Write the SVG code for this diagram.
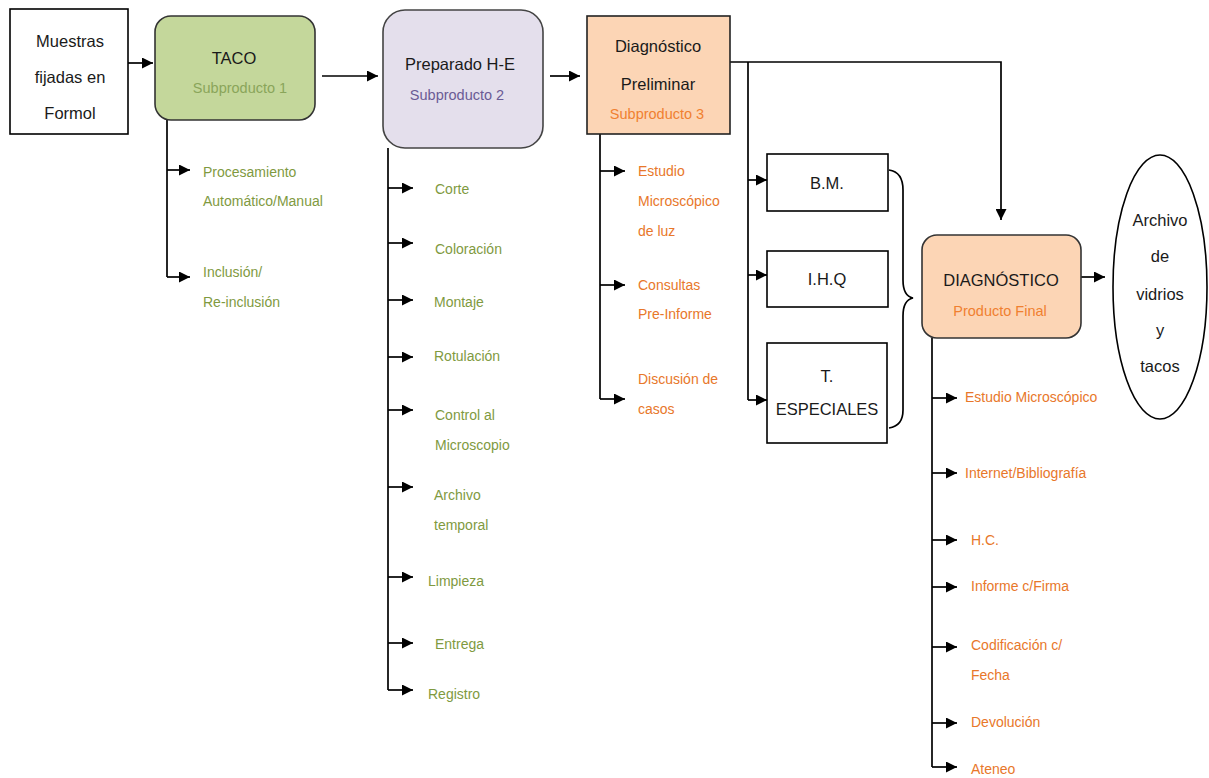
<svg xmlns="http://www.w3.org/2000/svg" width="1209" height="778" viewBox="0 0 1209 778">
<defs>
<marker id="ah" viewBox="0 0 10 10" refX="10" refY="5" markerWidth="11" markerHeight="11" markerUnits="userSpaceOnUse" orient="auto">
<path d="M0,0 L10,5 L0,10 z" fill="#000"/>
</marker>
</defs>
<style>
text{font-family:"Liberation Sans",Arial,sans-serif}
.t{font-size:16.5px;fill:#1a1a1a;text-anchor:middle}
.s{font-size:14.5px;text-anchor:middle}
.g{font-size:14px;fill:#7f9a3f}
.o{font-size:14px;fill:#e8772a}
.c line,.c path,.c polyline{stroke:#000;stroke-width:1.7;fill:none}
.a{marker-end:url(#ah)}
</style>
<rect width="1209" height="778" fill="#fff"/>
<g class="c" id="connectors">
<line class="a" x1="128" y1="63" x2="153" y2="63"/>
<line class="a" x1="322" y1="76" x2="378" y2="76"/>
<line class="a" x1="550" y1="76" x2="580" y2="76"/>
<polyline class="a" points="730,62 1001,62 1001,220"/>
<line x1="748" y1="62" x2="748" y2="400"/>
<line class="a" x1="748" y1="180" x2="767" y2="180"/>
<line class="a" x1="748" y1="275" x2="767" y2="275"/>
<line class="a" x1="748" y1="400" x2="767" y2="400"/>
<path d="M889,170 Q903,172 903,190 L903,280 Q903,296 913,298 Q903,300 903,316 L903,410 Q903,426 889,428"/>
<line class="a" x1="1081" y1="277" x2="1105" y2="277"/>
<polyline points="167,120 167,277"/>
<line class="a" x1="167" y1="170" x2="190" y2="170"/>
<line class="a" x1="167" y1="277" x2="190" y2="277"/>
<polyline points="388,148 388,690"/>
<line class="a" x1="388" y1="188" x2="413" y2="188"/>
<line class="a" x1="388" y1="243" x2="413" y2="243"/>
<line class="a" x1="388" y1="300" x2="413" y2="300"/>
<line class="a" x1="388" y1="357" x2="413" y2="357"/>
<line class="a" x1="388" y1="410" x2="413" y2="410"/>
<line class="a" x1="388" y1="487" x2="413" y2="487"/>
<line class="a" x1="388" y1="577" x2="413" y2="577"/>
<line class="a" x1="388" y1="643" x2="413" y2="643"/>
<line class="a" x1="388" y1="690" x2="413" y2="690"/>
<polyline points="600,134 600,399"/>
<line class="a" x1="600" y1="171" x2="625" y2="171"/>
<line class="a" x1="600" y1="285" x2="625" y2="285"/>
<line class="a" x1="600" y1="399" x2="625" y2="399"/>
<polyline points="932,338 932,767"/>
<line class="a" x1="932" y1="398" x2="957" y2="398"/>
<line class="a" x1="932" y1="473" x2="957" y2="473"/>
<line class="a" x1="932" y1="540" x2="957" y2="540"/>
<line class="a" x1="932" y1="587" x2="957" y2="587"/>
<line class="a" x1="932" y1="647" x2="957" y2="647"/>
<line class="a" x1="932" y1="723" x2="957" y2="723"/>
<line class="a" x1="932" y1="767" x2="957" y2="767"/>
</g>
<g id="muestras">
<rect x="10" y="9" width="118" height="125" fill="#fff" stroke="#000" stroke-width="1.6"/>
<text class="t" x="70" y="47">Muestras</text>
<text class="t" x="70" y="83">fijadas en</text>
<text class="t" x="70" y="119">Formol</text>
</g>
<g id="taco">
<rect x="155" y="16" width="160" height="104" rx="16" fill="#c4d79b" stroke="#333" stroke-width="1.6"/>
<text class="t" x="234" y="64">TACO</text>
<text class="s" x="240" y="93" fill="#8aa55a">Subproducto 1</text>
</g>
<g id="preparado">
<rect x="383" y="10" width="160" height="138" rx="22" fill="#e4dfec" stroke="#444" stroke-width="1.6"/>
<text class="t" x="460" y="70">Preparado H-E</text>
<text class="s" x="457" y="100" fill="#6b5b95">Subproducto 2</text>
</g>
<g id="diag-preliminar">
<rect x="587" y="16" width="143" height="118" fill="#fcd5b5" stroke="#222" stroke-width="1.6"/>
<text class="t" x="658" y="52">Diagnóstico</text>
<text class="t" x="658" y="90">Preliminar</text>
<text class="s" x="657" y="119" fill="#f08030">Subproducto 3</text>
</g>
<g id="bm">
<rect x="767" y="154" width="121" height="57" fill="#fff" stroke="#000" stroke-width="1.6"/>
<text class="t" x="827" y="189">B.M.</text>
</g>
<g id="ihq">
<rect x="767" y="251" width="121" height="56" fill="#fff" stroke="#000" stroke-width="1.6"/>
<text class="t" x="827" y="285">I.H.Q</text>
</g>
<g id="tesp">
<rect x="767" y="343" width="120" height="100" fill="#fff" stroke="#000" stroke-width="1.6"/>
<text class="t" x="827" y="382">T.</text>
<text class="t" x="827" y="415">ESPECIALES</text>
</g>
<g id="diagnostico">
<rect x="922" y="235" width="159" height="103" rx="15" fill="#fcd5b5" stroke="#333" stroke-width="1.6"/>
<text class="t" x="1001" y="286">DIAGNÓSTICO</text>
<text class="s" x="1000" y="316" fill="#f08030">Producto Final</text>
</g>
<g id="archivo">
<ellipse cx="1160" cy="287" rx="47" ry="132" fill="#fff" stroke="#000" stroke-width="1.6"/>
<text class="t" x="1160" y="226">Archivo</text>
<text class="t" x="1160" y="262">de</text>
<text class="t" x="1160" y="300">vidrios</text>
<text class="t" x="1160" y="336">y</text>
<text class="t" x="1160" y="372">tacos</text>
</g>
<g id="taco-items">
<text class="g" x="203" y="177">Procesamiento</text>
<text class="g" x="203" y="206">Automático/Manual</text>
<text class="g" x="203" y="277">Inclusión/</text>
<text class="g" x="203" y="307">Re-inclusión</text>
</g>
<g id="preparado-items">
<text class="g" x="435" y="194">Corte</text>
<text class="g" x="435" y="254">Coloración</text>
<text class="g" x="434" y="307">Montaje</text>
<text class="g" x="434" y="361">Rotulación</text>
<text class="g" x="435" y="420">Control al</text>
<text class="g" x="435" y="450">Microscopio</text>
<text class="g" x="434" y="500">Archivo</text>
<text class="g" x="434" y="530">temporal</text>
<text class="g" x="428" y="586">Limpieza</text>
<text class="g" x="435" y="649">Entrega</text>
<text class="g" x="428" y="699">Registro</text>
</g>
<g id="prelim-items">
<text class="o" x="638" y="176">Estudio</text>
<text class="o" x="638" y="206">Microscópico</text>
<text class="o" x="638" y="236">de luz</text>
<text class="o" x="638" y="290">Consultas</text>
<text class="o" x="638" y="319">Pre-Informe</text>
<text class="o" x="638" y="384">Discusión de</text>
<text class="o" x="638" y="414">casos</text>
</g>
<g id="final-items">
<text class="o" x="965" y="402">Estudio Microscópico</text>
<text class="o" x="965" y="478">Internet/Bibliografía</text>
<text class="o" x="971" y="545">H.C.</text>
<text class="o" x="971" y="591">Informe c/Firma</text>
<text class="o" x="971" y="650">Codificación c/</text>
<text class="o" x="971" y="680">Fecha</text>
<text class="o" x="971" y="727">Devolución</text>
<text class="o" x="971" y="774">Ateneo</text>
</g>
</svg>
